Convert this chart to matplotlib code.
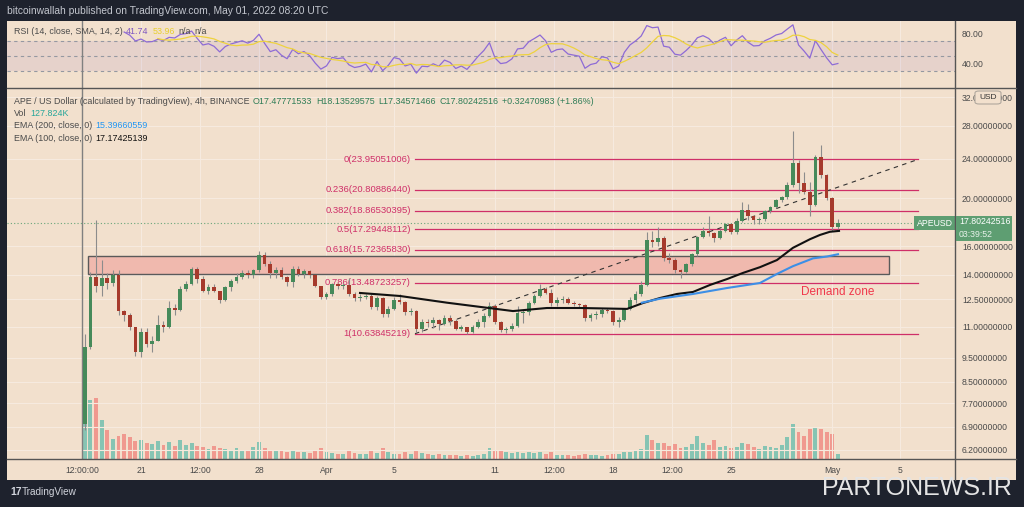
import numpy as np
import pandas as pd
import matplotlib
matplotlib.use('Agg')
import matplotlib.pyplot as plt
from matplotlib.patches import Rectangle, FancyBboxPatch
from matplotlib.ticker import NullLocator

plt.rcParams['font.family'] = ['Liberation Sans Narrow', 'Liberation Sans', 'DejaVu Sans']

# APE/USD, 8h candles from Mar 17 12:00 (day -3.5, day 0 = Mar 21) to May 1 08:00
closes = [10.0, 13.85, 13.3, 13.8, 13.45, 14.0, 11.8, 11.6, 10.95, 9.75,
          10.7, 10.15, 10.3, 11.1, 10.95, 11.97, 11.9, 13.1, 13.4, 14.4,
          13.7, 13.0, 13.25, 13.0, 12.45, 13.2, 13.6, 13.85, 14.1, 13.95,
          14.3, 15.35, 14.75, 14.1, 14.3, 13.85, 13.55, 14.4, 14.05, 14.25,
          13.95, 13.3, 12.6, 12.8, 13.4, 13.3, 13.35, 12.8, 12.55, 12.6,
          12.7, 12.05, 12.55, 11.65, 11.95, 12.45, 12.35, 11.75, 11.85, 10.85,
          11.25, 11.2, 11.35, 11.15, 11.45, 11.3, 10.85, 10.95, 10.7, 10.95,
          11.25, 11.55, 12.1, 11.25, 10.8, 10.85, 11.05, 11.7, 11.75, 12.3,
          12.65, 13.1, 12.85, 12.25, 12.45, 12.5, 12.25, 12.2, 12.15, 11.45,
          11.6, 11.65, 11.9, 11.85, 11.25, 11.35, 11.95, 12.45, 12.8, 13.35,
          16.45, 16.3, 16.6, 15.1, 15.0, 14.3, 14.2, 14.7, 15.4, 16.7,
          17.2, 17.0, 16.6, 17.2, 17.7, 17.1, 18.0, 18.9, 18.4, 18.1,
          18.15, 18.8, 19.2, 19.8, 20.1, 21.3, 23.6, 21.5, 20.6, 19.4,
          24.2, 22.3, 20.0, 17.48, 17.8]
highs = [10.6, 14.2, 18.1, 15.0, 14.1, 14.3, 14.3, 11.9, 11.7, 11.0,
         10.9, 10.9, 10.5, 11.6, 11.3, 12.4, 12.2, 13.3, 13.6, 14.5,
         14.5, 13.9, 13.4, 13.4, 13.0, 13.3, 13.7, 14.1, 14.3, 14.3,
         14.4, 15.6, 15.55, 14.9, 14.5, 14.5, 13.9, 14.6, 14.6, 14.4,
         14.3, 14.0, 13.3, 12.9, 13.5, 13.5, 13.5, 13.8, 12.9, 12.8,
         12.8, 12.8, 12.7, 12.6, 12.1, 12.6, 12.8, 12.4, 12.0, 11.9,
         11.4, 11.4, 11.5, 11.4, 11.6, 11.6, 11.4, 11.1, 11.0, 11.1,
         11.4, 11.7, 12.35, 12.2, 11.3, 11.0, 11.2, 12.1, 11.9, 12.4,
         12.8, 13.4, 13.2, 13.1, 12.6, 12.7, 12.6, 12.4, 12.3, 12.2,
         11.7, 11.8, 12.0, 12.0, 11.9, 11.5, 12.0, 12.6, 13.0, 13.6,
         17.1, 17.2, 17.5, 16.8, 15.5, 15.1, 14.4, 14.8, 15.5, 16.8,
         17.5, 18.4, 17.1, 17.3, 17.8, 17.8, 18.2, 19.6, 19.5, 18.5,
         18.3, 18.9, 19.3, 19.9, 20.2, 21.6, 27.4, 23.9, 22.6, 21.6,
         24.5, 25.6, 22.4, 20.1, 18.14]
lows = [6.8, 9.9, 12.9, 12.7, 13.1, 13.3, 11.6, 11.3, 10.8, 9.6,
        9.55, 10.0, 9.75, 10.3, 10.7, 10.9, 11.6, 11.8, 13.0, 13.35,
        13.5, 12.9, 12.8, 12.9, 12.25, 12.4, 13.0, 13.5, 13.7, 13.8,
        13.8, 14.2, 14.6, 13.8, 13.8, 13.7, 13.3, 13.2, 13.9, 13.8,
        13.8, 13.2, 12.5, 12.5, 12.7, 13.1, 13.1, 12.7, 12.4, 12.4,
        12.5, 11.95, 11.9, 11.5, 11.5, 11.9, 12.2, 11.6, 11.6, 10.7,
        10.7, 11.0, 10.9, 10.8, 11.1, 11.1, 10.8, 10.75, 10.62, 10.65,
        10.9, 11.0, 11.5, 11.15, 10.7, 10.65, 10.75, 11.0, 11.2, 11.6,
        12.2, 12.6, 12.8, 12.1, 12.1, 12.3, 12.2, 12.1, 12.0, 11.3,
        11.3, 11.4, 11.5, 11.7, 11.1, 10.95, 11.3, 11.9, 12.3, 12.7,
        13.3, 15.9, 16.0, 14.9, 14.8, 14.1, 13.8, 14.1, 14.6, 15.3,
        16.6, 16.8, 16.3, 16.5, 17.1, 16.9, 16.9, 17.9, 18.1, 17.7,
        17.7, 18.0, 18.7, 19.1, 19.6, 19.9, 21.1, 20.5, 20.4, 18.4,
        19.3, 22.0, 19.8, 17.2, 17.35]
first_open = 7.0
volumes = [1400, 1500, 1550, 1000, 750, 520, 600, 640, 560, 450,
           480, 400, 380, 460, 350, 430, 330, 480, 360, 420,
           330, 300, 250, 330, 280, 260, 230, 270, 220, 200,
           300, 430, 280, 220, 200, 240, 190, 230, 170, 180,
           160, 200, 290, 170, 150, 140, 130, 230, 160, 140,
           130, 200, 150, 280, 170, 140, 130, 170, 120, 230,
           160, 130, 110, 120, 100, 90, 100, 80, 90, 80,
           90, 140, 270, 200, 230, 180, 150, 190, 160, 180,
           150, 190, 140, 170, 110, 100, 90, 80, 90, 120,
           100, 90, 80, 110, 140, 130, 180, 170, 230, 260,
           620, 480, 400, 420, 330, 380, 280, 300, 380, 600,
           420, 360, 480, 300, 330, 280, 320, 420, 380, 300,
           260, 330, 300, 280, 350, 560, 900, 700, 600, 760,
           820, 760, 700, 640, 128]

ema100_days = [12.99, 15.36, 18.15, 22.06, 24.08, 26.04, 28.83, 29.77, 30.78, 31.79,
               32.74, 33.75, 34.76, 35.71, 36.71, 37.72, 38.67, 39.68, 40.27, 40.86, 41.40]
ema100_vals = [12.86, 12.68, 12.29, 11.82, 11.99, 11.99, 11.94, 12.27, 12.56, 12.80,
               12.92, 13.35, 13.72, 14.12, 14.50, 14.99, 15.87, 16.52, 16.85, 17.10, 17.17]
ema200_days = [29.71, 30.78, 32.74, 34.76, 36.71, 37.72, 38.67, 39.86, 40.69, 41.34]
ema200_vals = [12.29, 12.52, 12.80, 13.16, 13.47, 14.05, 14.57, 15.11, 15.24, 15.40]

fib_levels = [0, 0.236, 0.382, 0.5, 0.618, 0.786, 1]
fib_prices = [23.95051006, 20.80886440, 18.86530395, 17.29448112, 15.72365830, 13.48723257, 10.63845219]
zone_low, zone_high = 14.05, 15.28
last_price = 17.80242516

tick_days = [-3.5, 0, 3.5, 7, 11, 15, 21, 24.5, 28, 31.5, 35, 41, 45]
tick_labels = ['12:00:00', '21', '12:00', '28', 'Apr', '5', '11', '12:00', '18', '12:00', '25', 'May', '5']
price_ticks = [6.2, 6.9, 7.7, 8.5, 9.5, 11, 12.5, 14, 16, 20, 24, 28, 32]

# derived
closes = np.array(closes)
opens = np.concatenate([[first_open], closes[:-1]])
n = len(closes)
xs = -3.5 + np.arange(n) / 3 + 1 / 6
up = closes >= opens

s = pd.Series(closes)
d = s.diff()
g = d.clip(lower=0).ewm(alpha=1 / 7, adjust=False).mean()
l = (-d.clip(upper=0)).ewm(alpha=1 / 7, adjust=False).mean()
rsi = 100 - 100 / (1 + g / l)
rsi[:7] = np.nan
rsi_sma = rsi.rolling(7).mean()

W, H = 1024, 507
BG = '#f2e0cd'
DARK = '#1e222d'
GREEN = '#468a5a'
RED = '#a63a2c'
FIB = '#cf2f68'
GRID = '#f6eadf'
TXT = '#4a4a4a'

fig = plt.figure(figsize=(W / 100, H / 100), dpi=100, facecolor=DARK)


def fx(px):
    return px / W


def fy(py):
    return 1 - py / H


fig.patches.append(Rectangle((fx(7), fy(480)), (1016 - 7) / W, (480 - 21) / H,
                             transform=fig.transFigure, facecolor=BG, edgecolor='none', zorder=-5))

x0, x1 = (7 - 141) / 16.86, (955 - 141) / 16.86
y_top, y_bot = 24 * np.exp((159 - 88) / 214.7), 24 * np.exp((159 - 459) / 214.7)

# volume pane (behind)
vax = fig.add_axes([fx(7), fy(459), 948 / W, 371 / H], facecolor='none', zorder=0)
vax.bar(xs, volumes, width=0.23, color=np.where(up, '#86c4b3', '#f0998f'))
vax.set_xlim(x0, x1)
vax.set_ylim(0, 371 * 25.6)
vax.axis('off')

ax = fig.add_axes([fx(7), fy(459), 948 / W, 371 / H], facecolor='none', zorder=1)
ax.set_yscale('log')
ax.set_xlim(x0, x1)
ax.set_ylim(y_bot, y_top)
for t in tick_days:
    ax.axvline(t, color=GRID, lw=0.8, zorder=0)
for p in price_ticks:
    ax.axhline(p, color=GRID, lw=0.8, zorder=0)

# demand zone
ax.add_patch(Rectangle(((88 - 141) / 16.86, zone_low), (889 - 88) / 16.86, zone_high - zone_low,
                       facecolor='#f0b9ae', edgecolor='#5a5a5a', lw=1.0, zorder=1))

# fib retracement
fx0, fx1 = (415 - 141) / 16.86, (918 - 141) / 16.86
for lv, pr in zip(fib_levels, fib_prices):
    ax.plot([fx0, fx1], [pr, pr], color=FIB, lw=0.9, zorder=2)
    ax.text(fx0 - 0.25, pr, f'{lv:g}({pr:.8f})', color=FIB, fontsize=6.8,
            ha='right', va='center', zorder=2)
ax.plot([fx0, fx1], [fib_prices[-1], fib_prices[0]], color='#333333', lw=0.8,
        ls=(0, (4, 4)), zorder=2)

ax.axvline(-3.48, color='#808080', lw=1, zorder=2)
ax.axhline(last_price, color='#6aa67a', lw=0.8, ls=(0, (1, 2)), zorder=2)

# candles
ax.vlines(xs, lows, highs, color='#8c8c8c', lw=0.8, zorder=3)
ax.bar(xs, np.abs(closes - opens), bottom=np.minimum(opens, closes), width=0.22,
       color=np.where(up, GREEN, RED), zorder=4)

ax.plot(ema100_days, ema100_vals, color='#111111', lw=1.5, zorder=5)
ax.plot(ema200_days, ema200_vals, color='#3d8fe6', lw=1.5, zorder=5)

ax.text((838 - 141) / 16.86, 24 * np.exp((159 - 292) / 214.7), 'Demand zone', color='#f0364a',
        fontsize=8.5, ha='center', va='center', zorder=6)
ax.text(47.1, last_price, 'APEUSD', color='white', fontsize=6.3, ha='center', va='center', zorder=7,
        bbox=dict(boxstyle='square,pad=0.3', facecolor='#5e9e72', edgecolor='none'))

ax.yaxis.tick_right()
ax.yaxis.set_minor_locator(NullLocator())
ax.set_yticks(price_ticks)
ax.set_yticklabels([f'{p:.8f}' for p in price_ticks])
ax.set_xticks(tick_days)
ax.set_xticklabels(tick_labels)
ax.tick_params(axis='both', length=0, labelsize=6.2, colors=TXT)
ax.tick_params(axis='x', pad=5)
ax.tick_params(axis='y', pad=5)
for sp in ax.spines.values():
    sp.set_visible(False)

# RSI pane
rax = fig.add_axes([fx(7), fy(88), 948 / W, 67 / H], facecolor=BG)
rax.set_xlim(x0, x1)
rax.set_ylim(6.9, 96.3)
for t in tick_days:
    rax.axvline(t, color=GRID, lw=0.8, zorder=0)
rax.axhspan(30, 70, color='#7e57c2', alpha=0.1, lw=0)
for v in (70, 50, 30):
    rax.axhline(v, color='#9598a1', lw=0.8, ls=(0, (3, 3)))
rax.axvline(-3.48, color='#808080', lw=1)
rax.plot(xs, rsi, color='#8e6bd6', lw=0.9)
rax.plot(xs, rsi_sma, color='#eed23e', lw=0.9)
rax.yaxis.tick_right()
rax.set_yticks([80, 40])
rax.set_yticklabels(['80.00', '40.00'])
rax.set_xticks([])
rax.tick_params(axis='y', length=0, labelsize=6.2, colors=TXT, pad=5)
for sp in rax.spines.values():
    sp.set_visible(False)

# separators
for yy in (88, 459):
    fig.add_artist(plt.Line2D([fx(7), fx(1016)], [fy(yy), fy(yy)], color='#555555', lw=1))
fig.add_artist(plt.Line2D([fx(955), fx(955)], [fy(21), fy(480)], color='#555555', lw=1))

# price box on axis
fig.patches.append(Rectangle((fx(956), fy(241)), 56 / W, 25 / H, transform=fig.transFigure,
                             facecolor='#5e9e72', edgecolor='none', zorder=5))
fig.text(fx(959), fy(222), '17.80242516', color='white', fontsize=6.3, va='center', zorder=6)
fig.text(fx(959), fy(235), '03:39:52', color='#e8f2ea', fontsize=6.3, va='center', zorder=6)
fig.patches.append(FancyBboxPatch((fx(975), fy(104)), 26 / W, 13 / H, transform=fig.transFigure,
                                  boxstyle='round,pad=0,rounding_size=0.004',
                                  facecolor=BG, edgecolor='#b0a89e', lw=0.8, zorder=5))
fig.text(fx(988), fy(97.5), 'USD', color='#333333', fontsize=6, ha='center', va='center', zorder=6)

# legends
r = fig.canvas.get_renderer()


def seq_text(x, y, parts, size=6.4):
    for txt, col in parts:
        t = fig.text(fx(x), fy(y), txt, color=col, fontsize=size, va='center', ha='left', zorder=8)
        x += t.get_window_extent(renderer=r).width + 3.5


fig.text(fx(7), fy(11), 'bitcoinwallah published on TradingView.com, May 01, 2022 08:20 UTC',
         color='#c3c6ce', fontsize=7.4, va='center')
seq_text(14, 32, [('RSI (14, close, SMA, 14, 2)', TXT), ('41.74', '#7e57c2'), ('53.96', '#e8cf2e'),
                  ('n/a', TXT), ('n/a', TXT)])
seq_text(14, 101, [('APE / US Dollar (calculated by TradingView), 4h, BINANCE', TXT),
                   ('O17.47771533', '#2f7d57'), ('H18.13529575', '#2f7d57'), ('L17.34571466', '#2f7d57'),
                   ('C17.80242516', '#2f7d57'), ('+0.32470983 (+1.86%)', '#2f7d57')])
seq_text(14, 113.5, [('Vol', TXT), ('127.824K', '#26a69a')])
seq_text(14, 126, [('EMA (200, close, 0)', TXT), ('15.39660559', '#2196f3')])
seq_text(14, 138.5, [('EMA (100, close, 0)', TXT), ('17.17425139', '#111111')])

fig.text(fx(10), fy(492), '17', color='#d1d4dc', fontsize=7.5, fontweight='bold', va='center')
fig.text(fx(22), fy(492), 'TradingView', color='#d1d4dc', fontsize=7.2, va='center')
fig.text(fx(917), fy(488), 'PARTONEWS.IR', color='#e4e4e4', fontsize=18, ha='center', va='center',
         zorder=9)

fig.savefig('out.png', dpi=100, facecolor=DARK)
